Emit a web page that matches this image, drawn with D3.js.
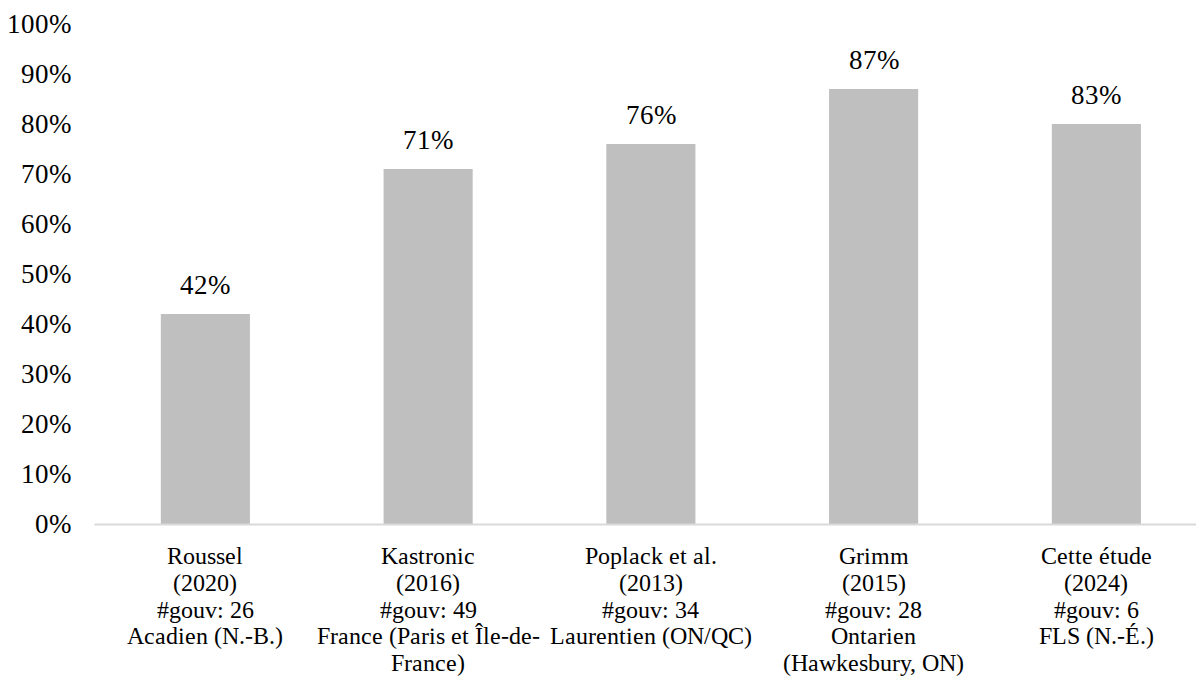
<!DOCTYPE html>
<html>
<head>
<meta charset="utf-8">
<script src="https://cdn.jsdelivr.net/npm/d3@7"></script>
<style>
  @font-face {
    font-family: "RefSerif";
    src: local("Liberation Serif"), local("LiberationSerif"), local("LiberationSerif-Regular"),
         local("Times New Roman"), local("TimesNewRomanPSMT"), local("Tinos"), local("Tinos-Regular"),
         local("DejaVu Serif"), local("DejaVuSerif"), local("Noto Serif"), local("NotoSerif-Regular"),
         local("Noto Serif CJK SC"), local("NotoSerifCJKsc-Regular");
  }
  html, body { margin: 0; padding: 0; background: #fff; }
  svg { display: block; }
</style>
</head>
<body>
<svg id="chart" width="1196" height="677"></svg>
<script>
// ---- data ----
const categories = [
  ["Roussel", "(2020)", "#gouv: 26", "Acadien (N.-B.)"],
  ["Kastronic", "(2016)", "#gouv: 49", "France (Paris et Île-de-", "France)"],
  ["Poplack et al.", "(2013)", "#gouv: 34", "Laurentien (ON/QC)"],
  ["Grimm", "(2015)", "#gouv: 28", "Ontarien", "(Hawkesbury, ON)"],
  ["Cette étude", "(2024)", "#gouv: 6", "FLS (N.-É.)"]
];
const barValues = [0.42, 0.71, 0.76, 0.87, 0.80];
const valueLabels = ["42%", "71%", "76%", "87%", "83%"];
const yTicks = [0, 0.1, 0.2, 0.3, 0.4, 0.5, 0.6, 0.7, 0.8, 0.9, 1.0];

const FONT = "RefSerif, 'Liberation Serif', 'DejaVu Serif', serif";

// ---- layout ----
const svg = d3.select("#chart").attr("font-family", FONT);
const x0 = 94, x1 = 1207.75, yTop = 24, yBottom = 524;

const x = d3.scaleBand()
  .domain(d3.range(categories.length))
  .range([x0, x1])
  .paddingInner(0.6)
  .paddingOuter(0.3);

const y = d3.scaleLinear().domain([0, 1]).range([yBottom, yTop]);

// y tick labels
svg.append("g").selectAll("text")
  .data(yTicks)
  .join("text")
  .attr("x", 71)
  .attr("y", d => y(d) + 9)
  .attr("text-anchor", "end")
  .attr("font-family", FONT)
  .attr("font-size", 27)
  .attr("fill", "#000")
  .text(d => d3.format(".0%")(d));

// bars
svg.append("g").selectAll("rect")
  .data(barValues)
  .join("rect")
  .attr("x", (d, i) => x(i))
  .attr("width", x.bandwidth())
  .attr("y", d => y(d))
  .attr("height", d => yBottom - y(d))
  .attr("fill", "#bfbfbf");

// value labels
svg.append("g").selectAll("text")
  .data(barValues)
  .join("text")
  .attr("x", (d, i) => x(i) + x.bandwidth() / 2)
  .attr("y", d => y(d) - 20)
  .attr("text-anchor", "middle")
  .attr("font-family", FONT)
  .attr("font-size", 27)
  .attr("fill", "#000")
  .text((d, i) => valueLabels[i]);

// x axis line
const xAxis = d3.axisBottom(x).tickSize(0).tickFormat("");
const gx = svg.append("g").attr("transform", `translate(0,${yBottom})`).call(xAxis);
gx.select(".domain").attr("stroke", "#d9d9d9").attr("stroke-width", 2);

// category labels
const catG = svg.append("g").selectAll("text")
  .data(categories)
  .join("text")
  .attr("text-anchor", "middle")
  .attr("font-family", FONT)
  .attr("font-size", 24)
  .attr("fill", "#000");
catG.each(function(lines, i) {
  const t = d3.select(this);
  lines.forEach((ln, j) => {
    t.append("tspan")
      .attr("x", x(i) + x.bandwidth() / 2)
      .attr("y", 564 + j * 26.8)
      .text(ln);
  });
});
</script>
</body>
</html>
